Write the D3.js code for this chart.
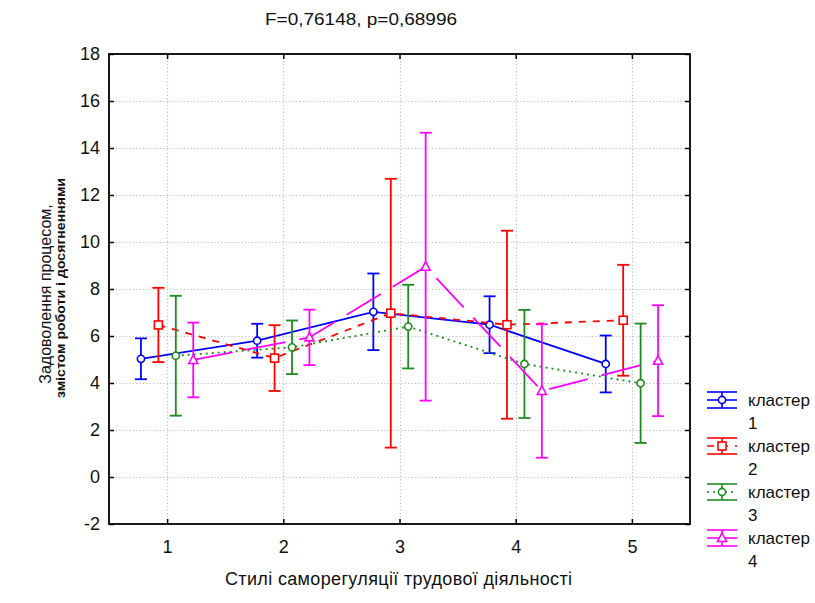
<!DOCTYPE html>
<html>
<head>
<meta charset="utf-8">
<script src="https://cdn.jsdelivr.net/npm/d3@7"></script>
<style>
  body { margin: 0; background: #fff; }
  svg { display: block; }
  text { font-family: "Liberation Sans", Arial, sans-serif; fill: #111; }
</style>
</head>
<body>
<svg id="chart" width="815" height="603"></svg>
<script>
// Styles of self-regulation (x categories)
const styles = [1, 2, 3, 4, 5];
const yTicks = [-2, 0, 2, 4, 6, 8, 10, 12, 14, 16, 18];

// Cluster means and half-widths of the error bars
const clusterNames = ["кластер 1", "кластер 2", "кластер 3", "кластер 4"];
const mean1 = [5.03, 5.80, 7.03, 6.48, 4.81];
const err1  = [0.87, 0.72, 1.63, 1.21, 1.21];
const mean2 = [6.47, 5.06, 6.97, 6.48, 6.67];
const err2  = [1.58, 1.40, 5.72, 4.00, 2.36];
const mean3 = [5.16, 5.52, 6.40, 4.81, 3.99];
const err3  = [2.55, 1.14, 1.78, 2.30, 2.54];
const mean4 = [4.98, 5.94, 8.95, 3.66, 4.95];
const err4  = [1.59, 1.18, 5.70, 2.84, 2.36];

const titleText = "F=0,76148, p=0,68996";
const xTitle = "Стилі саморегуляції трудової діяльності";
const yTitle1 = "Задоволення процесом,";
const yTitle2 = "змістом роботи і досягненнями";

const series = [
  { name: clusterNames[0], mean: mean1, err: err1, color: "#0000ff", dash: null,  marker: "circle",   offset: -0.225 },
  { name: clusterNames[1], mean: mean2, err: err2, color: "#ff0000", dash: "7,7", marker: "square",   offset: -0.075 },
  { name: clusterNames[2], mean: mean3, err: err3, color: "#1e8c1e", dash: "2,4", marker: "circle",   offset: 0.075 },
  { name: clusterNames[3], mean: mean4, err: err4, color: "#ff00ff", dash: "40,14", marker: "triangle", offset: 0.225 }
];

const svg = d3.select("#chart");
const L = 109, R = 690, T = 54, B = 524;

const x = d3.scaleLinear().domain([0.5, 5.5]).range([L, R]);
const y = d3.scaleLinear().domain([-2, 18]).range([B, T]);

// Dotted grid
const grid = svg.append("g").attr("stroke", "#bdbdbd").attr("stroke-width", 1.2)
  .attr("stroke-dasharray", "1.2,2.2");
grid.selectAll(".gx").data(styles).join("line")
  .attr("x1", d => Math.round(x(d)) + 0.5).attr("x2", d => Math.round(x(d)) + 0.5)
  .attr("y1", T).attr("y2", B);
grid.selectAll(".gy").data(yTicks.filter(v => v > -2 && v < 18)).join("line")
  .attr("x1", L).attr("x2", R)
  .attr("y1", d => Math.round(y(d)) + 0.5).attr("y2", d => Math.round(y(d)) + 0.5);

// Axes with inward ticks on all four sides
const plain = d => String(d);
const axLeft = svg.append("g").attr("transform", `translate(${L},0)`)
  .call(d3.axisLeft(y).tickValues(yTicks).tickSize(-5).tickPadding(12).tickFormat(plain));
const axRight = svg.append("g").attr("transform", `translate(${R},0)`)
  .call(d3.axisRight(y).tickValues(yTicks).tickSize(-5).tickFormat(""));
const axBottom = svg.append("g").attr("transform", `translate(0,${B})`)
  .call(d3.axisBottom(x).tickValues(styles).tickSize(-5).tickPadding(16).tickFormat(plain));
const axTop = svg.append("g").attr("transform", `translate(0,${T})`)
  .call(d3.axisTop(x).tickValues(styles).tickSize(-5).tickFormat(""));
[axLeft, axRight, axBottom, axTop].forEach(a => {
  a.select(".domain").remove();
  a.selectAll(".tick line").attr("stroke", "#000").attr("stroke-width", 1.5);
});
axLeft.selectAll(".tick text").attr("font-size", 18).attr("fill", "#111")
  .style("font-family", "'Liberation Sans', Arial, sans-serif").attr("dx", "3");
axBottom.selectAll(".tick text").attr("font-size", 18).attr("fill", "#111")
  .style("font-family", "'Liberation Sans', Arial, sans-serif");

// Frame
svg.append("rect").attr("x", L).attr("y", T).attr("width", R - L).attr("height", B - T)
  .attr("fill", "none").attr("stroke", "#000").attr("stroke-width", 1.8);

function drawMarker(g, type, cx, cy, color) {
  if (type === "circle") {
    g.append("circle").attr("cx", cx).attr("cy", cy).attr("r", 3.6)
      .attr("fill", "#fff").attr("stroke", color).attr("stroke-width", 1.6);
  } else if (type === "square") {
    g.append("rect").attr("x", cx - 4).attr("y", cy - 4).attr("width", 8).attr("height", 8)
      .attr("fill", "#fff").attr("stroke", color).attr("stroke-width", 1.6);
  } else {
    g.append("path").attr("d", `M${cx},${cy - 5}L${cx + 4.5},${cy + 3.5}L${cx - 4.5},${cy + 3.5}Z`)
      .attr("fill", "#fff").attr("stroke", color).attr("stroke-width", 1.6);
  }
}

const plot = svg.append("g");
series.forEach(s => {
  const g = plot.append("g");
  const pts = styles.map((st, i) => ({ xv: st + s.offset, m: s.mean[i], e: s.err[i] }));
  // connecting line
  g.append("path")
    .attr("d", d3.line().x(d => x(d.xv)).y(d => y(d.m))(pts))
    .attr("fill", "none").attr("stroke", s.color).attr("stroke-width", 1.8)
    .attr("stroke-dasharray", s.dash);
  // error bars
  pts.forEach(p => {
    const cx = x(p.xv);
    g.append("line").attr("x1", cx).attr("x2", cx).attr("y1", y(p.m + p.e)).attr("y2", y(p.m - p.e))
      .attr("stroke", s.color).attr("stroke-width", 1.8);
    [p.m + p.e, p.m - p.e].forEach(v => {
      g.append("line").attr("x1", cx - 6).attr("x2", cx + 6).attr("y1", y(v)).attr("y2", y(v))
        .attr("stroke", s.color).attr("stroke-width", 1.8);
    });
    drawMarker(g, s.marker, cx, y(p.m), s.color);
  });
});

// Legend
const legend = svg.append("g");
series.forEach((s, i) => {
  const cy = 400 + i * 46;
  const g = legend.append("g");
  const x0 = 707, x1 = 737, xm = 722;
  [cy - 8, cy + 8].forEach(yy => g.append("line").attr("x1", x0).attr("x2", x1).attr("y1", yy).attr("y2", yy)
    .attr("stroke", s.color).attr("stroke-width", 1.6));
  g.append("line").attr("x1", xm).attr("x2", xm).attr("y1", cy - 8).attr("y2", cy + 8)
    .attr("stroke", s.color).attr("stroke-width", 1.6);
  g.append("line").attr("x1", x0).attr("x2", x1).attr("y1", cy).attr("y2", cy)
    .attr("stroke", s.color).attr("stroke-width", 1.6)
    .attr("stroke-dasharray", s.dash === "40,14" ? null : s.dash);
  drawMarker(g, s.marker, xm, cy, s.color);
  const parts = s.name.split(" ");
  g.append("text").attr("x", 748).attr("y", cy + 6).attr("font-size", 17).text(parts[0]);
  g.append("text").attr("x", 748).attr("y", cy + 29).attr("font-size", 17).text(parts[1]);
});

// Titles
svg.append("text").attr("x", 265).attr("y", 25).attr("font-size", 17)
  .attr("textLength", 192).attr("lengthAdjust", "spacingAndGlyphs").text(titleText);
svg.append("text").attr("x", 225).attr("y", 585).attr("font-size", 18)
  .attr("textLength", 347).text(xTitle);
svg.append("text").attr("transform", "translate(51,294) rotate(-90)")
  .attr("text-anchor", "middle").attr("font-size", 16).text(yTitle1);
svg.append("text").attr("transform", "translate(65,288) rotate(-90)")
  .attr("text-anchor", "middle").attr("font-size", 13.5).attr("font-weight", "bold")
  .attr("textLength", 220).attr("lengthAdjust", "spacingAndGlyphs").text(yTitle2);
</script>
</body>
</html>
